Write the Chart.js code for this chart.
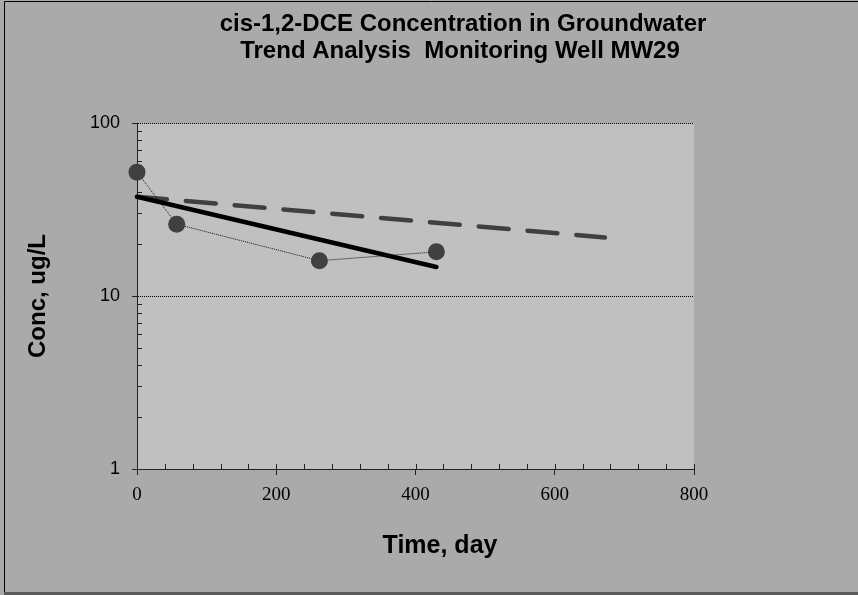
<!DOCTYPE html>
<html><head><meta charset="utf-8">
<script src="https://cdn.jsdelivr.net/npm/chart.js@4"></script>
<style>html,body{margin:0;padding:0;background:#aaaaaa;}canvas{display:block;}</style>
</head><body>
<canvas id="c" width="858" height="595"></canvas>
<script>
const titleLines = ['cis-1,2-DCE Concentration in Groundwater', 'Trend Analysis  Monitoring Well MW29'];
const xAxisTitle = 'Time, day';
const yAxisTitle = 'Conc, ug/L';
const xTicks = [0, 200, 400, 600, 800];
const yTicks = [1, 10, 100];
const sampleDays = [0, 57, 262, 430];
const sampleConc = [52, 26, 16, 18];
const trendDays = [0, 430];
const trendConc = [37.5, 14.7];
const projDays = [0, 672];
const projConc = [37.5, 21.8];

const pts = (xs, ys) => xs.map((x, i) => ({x: x, y: ys[i]}));

const frame = {
  id: 'frame',
  beforeDraw(chart) {
    const {ctx, chartArea: a} = chart;
    ctx.save();
    ctx.fillStyle = '#aaaaaa';
    ctx.fillRect(0, 0, chart.width, chart.height);
    ctx.fillStyle = '#c0c0c0';
    ctx.fillRect(a.left, a.top, a.right - a.left, a.bottom - a.top);
    ctx.strokeStyle = '#000';
    ctx.lineWidth = 1;
    ctx.beginPath();
    ctx.moveTo(4.5, 592); ctx.lineTo(4.5, 1.5); ctx.lineTo(858, 1.5);
    ctx.stroke();
    ctx.strokeStyle = '#5a5a5a';
    ctx.lineWidth = 3;
    ctx.beginPath();
    ctx.moveTo(4, 593.5); ctx.lineTo(858, 593.5);
    ctx.stroke();
    ctx.restore();
  },
  beforeDatasetsDraw(chart) {
    const {ctx, chartArea: a, scales} = chart;
    ctx.save();
    ctx.strokeStyle = '#222';
    ctx.lineWidth = 1;
    ctx.beginPath();
    for (let v = 0; v <= 800; v += 40) {
      const px = Math.round(scales.x.getPixelForValue(v)) + 0.5;
      ctx.moveTo(px, a.bottom); ctx.lineTo(px, a.bottom - 5);
    }
    [1, 10].forEach(d => {
      for (let m = 2; m <= 9; m++) {
        const py = Math.round(scales.y.getPixelForValue(m * d)) + 0.5;
        ctx.moveTo(a.left, py); ctx.lineTo(a.left + 5, py);
      }
    });
    ctx.stroke();
    ctx.restore();
  },
  afterDraw(chart) {
    const {ctx} = chart;
    ctx.save();
    ctx.fillStyle = '#000';
    ctx.textAlign = 'center';
    ctx.textBaseline = 'alphabetic';
    ctx.font = 'bold 24px "Liberation Sans", Arial, sans-serif';
    ctx.fillText(titleLines[0], 463, 31);
    ctx.fillText(titleLines[1], 460, 58);
    ctx.font = 'bold 25px "Liberation Sans", Arial, sans-serif';
    ctx.fillText(xAxisTitle, 440, 553);
    ctx.restore();
  }
};

new Chart(document.getElementById('c'), {
  type: 'scatter',
  data: {
    datasets: [
      {
        data: pts(sampleDays, sampleConc),
        showLine: true,
        clip: false,
        borderColor: '#111',
        borderWidth: 1,
        borderDash: [1, 1],
        pointRadius: 8.5,
        pointBackgroundColor: '#404040',
        pointBorderColor: '#404040',
        pointBorderWidth: 0
      },
      {
        data: pts(trendDays, trendConc),
        showLine: true,
        clip: false,
        borderColor: '#000',
        borderWidth: 4.5,
        borderCapStyle: 'round',
        pointRadius: 0
      },
      {
        data: pts(projDays, projConc),
        showLine: true,
        clip: false,
        borderColor: '#404040',
        borderWidth: 4.5,
        borderDash: [30, 19],
        borderCapStyle: 'round',
        pointRadius: 0
      }
    ]
  },
  options: {
    responsive: false,
    animation: false,
    devicePixelRatio: 1,
    layout: {padding: {left: 0, right: 164, top: 123, bottom: 0}},
    plugins: {legend: {display: false}, tooltip: {enabled: false}, title: {display: false}},
    scales: {
      x: {
        type: 'linear',
        min: 0, max: 800,
        afterBuildTicks: s => { s.ticks = xTicks.map(v => ({value: v})); },
        afterFit: s => { s.height = 126; },
        ticks: {
          color: '#000',
          padding: 9,
          font: {family: '"Liberation Serif", "Times New Roman", serif', size: 19},
          callback: v => String(v),
          maxRotation: 0
        },
        grid: {drawOnChartArea: false, drawTicks: true, tickLength: 6, color: '#222'},
        border: {display: true, color: '#222', width: 1}
      },
      y: {
        type: 'logarithmic',
        min: 1, max: 100,
        afterBuildTicks: s => { s.ticks = yTicks.map(v => ({value: v})); },
        afterFit: s => { s.width = 137; },
        ticks: {
          color: '#000',
          padding: 12,
          font: {family: '"Liberation Sans", Arial, sans-serif', size: 18},
          callback: v => String(v)
        },
        grid: {color: '#000', lineWidth: 1, drawTicks: true, tickLength: 5, tickColor: '#222'},
        border: {display: true, color: '#222', width: 1, dash: [1, 1]},
        title: {
          display: true,
          text: yAxisTitle,
          color: '#000',
          font: {family: '"Liberation Sans", Arial, sans-serif', size: 24, weight: 'bold'},
          padding: {top: 24, bottom: 0}
        }
      }
    }
  },
  plugins: [frame]
});
</script>
</body></html>
